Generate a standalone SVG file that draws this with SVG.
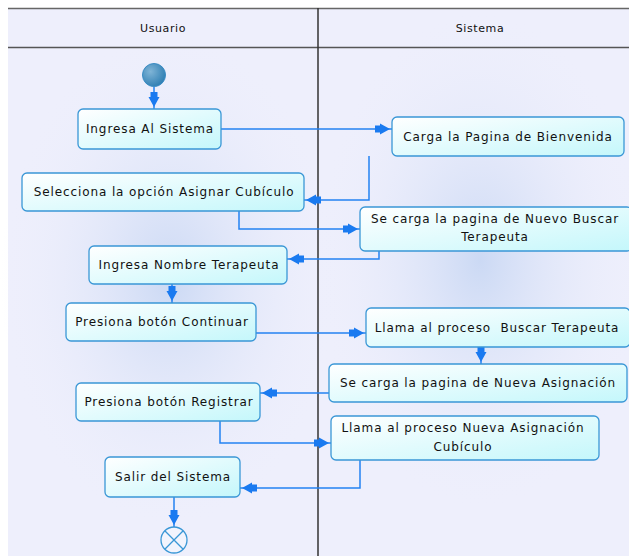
<svg xmlns="http://www.w3.org/2000/svg" width="629" height="556" viewBox="0 0 629 556">
<style>
.lane{fill:#eeeffc}
.hdr{font-family:"DejaVu Sans",sans-serif;font-size:11px;fill:#111;text-anchor:middle;letter-spacing:0.6px}
.node rect{fill:url(#nodeFill);stroke:#3a97d6;stroke-width:1.3}
.node text{font-family:"DejaVu Sans",sans-serif;font-size:12px;fill:#111;text-anchor:middle;letter-spacing:0.9px;white-space:pre}
.conn path{fill:none;stroke:#2382f2;stroke-width:1.5;marker-end:url(#arr)}
</style>
<defs>
<linearGradient id="nodeFill" x1="0" y1="0" x2="1" y2="1">
<stop offset="0" stop-color="#ffffff"/>
<stop offset="1" stop-color="#c4f7fb"/>
</linearGradient>
<radialGradient id="glowL" cx="0.5" cy="0.5" r="0.5">
<stop offset="0" stop-color="#cbd9f4"/>
<stop offset="1" stop-color="#eeeffc" stop-opacity="0"/>
</radialGradient>
<radialGradient id="startFill" cx="0.35" cy="0.35" r="0.7">
<stop offset="0" stop-color="#7fb4d6"/>
<stop offset="1" stop-color="#2f7fb3"/>
</radialGradient>
<marker id="arr" markerUnits="userSpaceOnUse" markerWidth="22" markerHeight="16" viewBox="-18 -8 22 16" refX="0" refY="0" orient="auto">
<path d="M-2,0 L-12,-5.5 L-12,5.5 Z M-12,-3.5 L-17,-3.5 L-17,3.5 L-12,3.5 Z" fill="#1a7af0"/>
</marker>
</defs>
<g id="lanes">
<rect class="lane" x="8" y="8" width="621" height="548"/>
<ellipse cx="170" cy="280" rx="170" ry="250" fill="url(#glowL)"/>
<ellipse cx="480" cy="260" rx="165" ry="250" fill="url(#glowL)"/>
<line x1="8" y1="8.5" x2="629" y2="8.5" stroke="#666" stroke-width="1.5"/>
<line x1="8" y1="47.5" x2="629" y2="47.5" stroke="#555" stroke-width="1.5"/>
<line x1="318" y1="8" x2="318" y2="556" stroke="#333" stroke-width="1.5"/>
<text class="hdr" x="163" y="32">Usuario</text>
<text class="hdr" x="480" y="32">Sistema</text>
</g>
<g id="connectors" class="conn">
<path d="M154,87 V109"/>
<path d="M221,129 H392"/>
<path d="M369,156 V200 H304"/>
<path d="M239,211 V229 H360"/>
<path d="M379,251 V259 H287"/>
<path d="M172,284 V303"/>
<path d="M256,333 H366"/>
<path d="M481,347 V364"/>
<path d="M329,393 H260"/>
<path d="M220,421 V443 H331"/>
<path d="M360,460 V488 H240"/>
<path d="M174,497 V527"/>
</g>
<g id="start"><circle cx="154" cy="75" r="11.5" fill="url(#startFill)" stroke="#3a8cc4" stroke-width="1"/></g>
<g id="n1" class="node"><rect x="78" y="109" width="143" height="40" rx="5"/><text x="150" y="133">Ingresa Al Sistema</text></g>
<g id="n2" class="node"><rect x="22" y="173" width="282" height="38" rx="5"/><text x="164" y="196">Selecciona la opción Asignar Cubículo</text></g>
<g id="n3" class="node"><rect x="89" y="246" width="198" height="38" rx="5"/><text x="189" y="269">Ingresa Nombre Terapeuta</text></g>
<g id="n4" class="node"><rect x="392" y="117" width="232" height="39" rx="5"/><text x="508" y="141">Carga la Pagina de Bienvenida</text></g>
<g id="n5" class="node"><rect x="360" y="207" width="272" height="44" rx="5"/><text x="495" y="223">Se carga la pagina de Nuevo Buscar</text><text x="495" y="241">Terapeuta</text></g>
<g id="n6" class="node"><rect x="66" y="303" width="190" height="38" rx="5"/><text x="162" y="326">Presiona botón Continuar</text></g>
<g id="n7" class="node"><rect x="366" y="308" width="264" height="39" rx="5"/><text x="497" y="332">Llama al proceso  Buscar Terapeuta</text></g>
<g id="n8" class="node"><rect x="329" y="364" width="298" height="38" rx="5"/><text x="478" y="387">Se carga la pagina de Nueva Asignación</text></g>
<g id="n9" class="node"><rect x="76" y="383" width="184" height="38" rx="5"/><text x="169" y="406">Presiona botón Registrar</text></g>
<g id="n10" class="node"><rect x="331" y="416" width="268" height="44" rx="5"/><text x="463" y="432">Llama al proceso Nueva Asignación</text><text x="463" y="451">Cubículo</text></g>
<g id="n11" class="node"><rect x="105" y="457" width="135" height="40" rx="5"/><text x="173" y="481">Salir del Sistema</text></g>
<g id="end"><circle cx="174" cy="540" r="13" fill="#f2f4fd" stroke="#3a97d6" stroke-width="1.3"/><path d="M164.8,530.8 L183.2,549.2 M183.2,530.8 L164.8,549.2" stroke="#3a97d6" stroke-width="1.3"/></g>
</svg>
